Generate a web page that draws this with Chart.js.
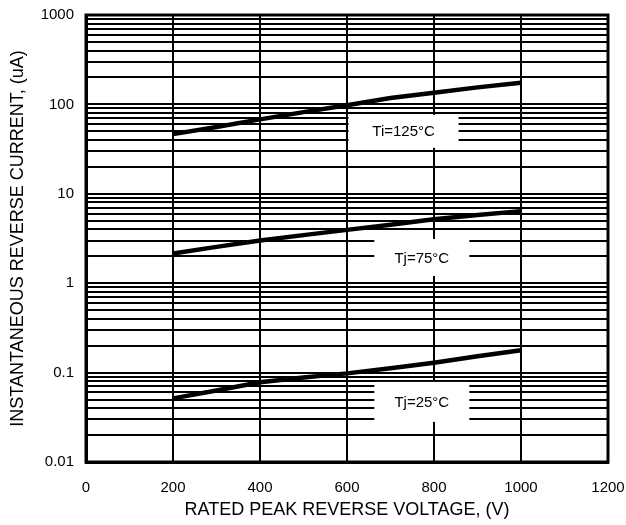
<!DOCTYPE html>
<html>
<head>
  <meta charset="UTF-8">
  <title>Reverse current vs voltage</title>
  <script src="https://cdn.jsdelivr.net/npm/chart.js"></script>
  <style>
    body { margin: 0; background: #fff; }
    #wrap { width: 626px; height: 525px; }
  </style>
</head>
<body>
  <div id="wrap"><canvas id="chart" width="626" height="525"></canvas></div>
  <script>
    // voltage points (V)
    const voltage = [200, 300, 400, 500, 600, 700, 800, 900, 1000];
    // reverse current (uA) per junction temperature
    const current125 = [46.5, 56, 68, 82, 98, 118, 135, 155, 175];
    const current75 = [2.15, 2.55, 3.0, 3.45, 3.95, 4.5, 5.2, 5.8, 6.4];
    const current25 = [0.0515, 0.063, 0.078, 0.088, 0.098, 0.112, 0.129, 0.152, 0.178];
    const seriesLabels = ['Ti=125°C', 'Tj=75°C', 'Tj=25°C'];

    const yDecades = [0.01, 0.1, 1, 10, 100, 1000];
    const yTickLabels = ['0.01', '0.1', '1', '10', '100', '1000'];
    const xTickLabels = ['0', '200', '400', '600', '800', '1000', '1200'];

    const FONT = '"Liberation Sans", Arial, sans-serif';

    // minor grid lines 1..9 in each decade
    const yGrid = [];
    yDecades.forEach((d, i) => {
      if (i === yDecades.length - 1) { yGrid.push(d); return; }
      for (let m = 1; m <= 9; m++) yGrid.push(+(d * m).toPrecision(3));
    });

    const toPoints = arr => arr.map((v, i) => ({ x: voltage[i], y: v }));

    // white boxes with curve names: centre in data units, size in px
    const boxes = [
      { text: seriesLabels[0], x: 730, y: 50, w: 110, h: 33 },
      { text: seriesLabels[1], x: 772, y: 1.94, w: 95, h: 37 },
      { text: seriesLabels[2], x: 772, y: 0.047, w: 95, h: 40 }
    ];

    const frame = {
      id: 'frame',
      afterDatasetsDraw(chart) {
        const { ctx, chartArea: a, scales } = chart;
        ctx.save();
        ctx.strokeStyle = '#000';
        ctx.lineWidth = 3;
        ctx.strokeRect(a.left, a.top, a.right - a.left, a.bottom - a.top);
        ctx.font = '15px ' + FONT;
        ctx.textAlign = 'center';
        ctx.textBaseline = 'middle';
        boxes.forEach(b => {
          const cx = scales.x.getPixelForValue(b.x);
          const cy = scales.y.getPixelForValue(b.y);
          ctx.fillStyle = '#fff';
          ctx.fillRect(cx - b.w / 2, cy - b.h / 2, b.w, b.h);
          ctx.fillStyle = '#000';
          ctx.fillText(b.text, cx, cy + 1);
        });
        ctx.restore();
      }
    };

    const lineStyle = { borderColor: '#000', borderWidth: 4.5, pointRadius: 0, tension: 0, fill: false };

    new Chart(document.getElementById('chart'), {
      type: 'line',
      data: {
        datasets: [
          Object.assign({ label: seriesLabels[0], data: toPoints(current125) }, lineStyle),
          Object.assign({ label: seriesLabels[1], data: toPoints(current75) }, lineStyle),
          Object.assign({ label: seriesLabels[2], data: toPoints(current25) }, lineStyle)
        ]
      },
      options: {
        responsive: false,
        animation: false,
        layout: { padding: { top: 15, right: 18, left: 0, bottom: 0 } },
        plugins: { legend: { display: false }, tooltip: { enabled: false } },
        scales: {
          x: {
            type: 'linear',
            min: 0,
            max: 1200,
            afterFit(s) { s.height = 63; s.paddingLeft = 0; s.paddingRight = 0; },
            ticks: {
              stepSize: 200,
              padding: 17,
              color: '#000',
              font: { family: FONT, size: 15 },
              callback: (v, i) => xTickLabels[i]
            },
            grid: { color: '#000', lineWidth: 2, drawTicks: false },
            border: { color: '#000', width: 3 },
            title: {
              display: true,
              text: 'RATED PEAK REVERSE VOLTAGE, (V)',
              color: '#000',
              font: { family: FONT, size: 18 },
              padding: { top: 0, bottom: 4 }
            }
          },
          y: {
            type: 'logarithmic',
            min: 0.01,
            max: 1000,
            afterFit(s) { s.width = 86; s.paddingTop = 0; s.paddingBottom = 0; },
            afterBuildTicks(s) { s.ticks = yGrid.map(v => ({ value: v })); },
            ticks: {
              autoSkip: false,
              padding: 12,
              color: '#000',
              font: { family: FONT, size: 15 },
              callback: v => {
                const k = yDecades.findIndex(d => Math.abs(d - v) / d < 1e-6);
                return k >= 0 ? yTickLabels[k] : '';
              }
            },
            grid: { color: '#000', lineWidth: 2, drawTicks: false },
            border: { color: '#000', width: 3 },
            title: {
              display: true,
              text: 'INSTANTANEOUS REVERSE CURRENT, (uA)',
              color: '#000',
              font: { family: FONT, size: 18 },
              padding: { top: 7, bottom: 7 }
            }
          }
        }
      },
      plugins: [frame]
    });
  </script>
</body>
</html>
